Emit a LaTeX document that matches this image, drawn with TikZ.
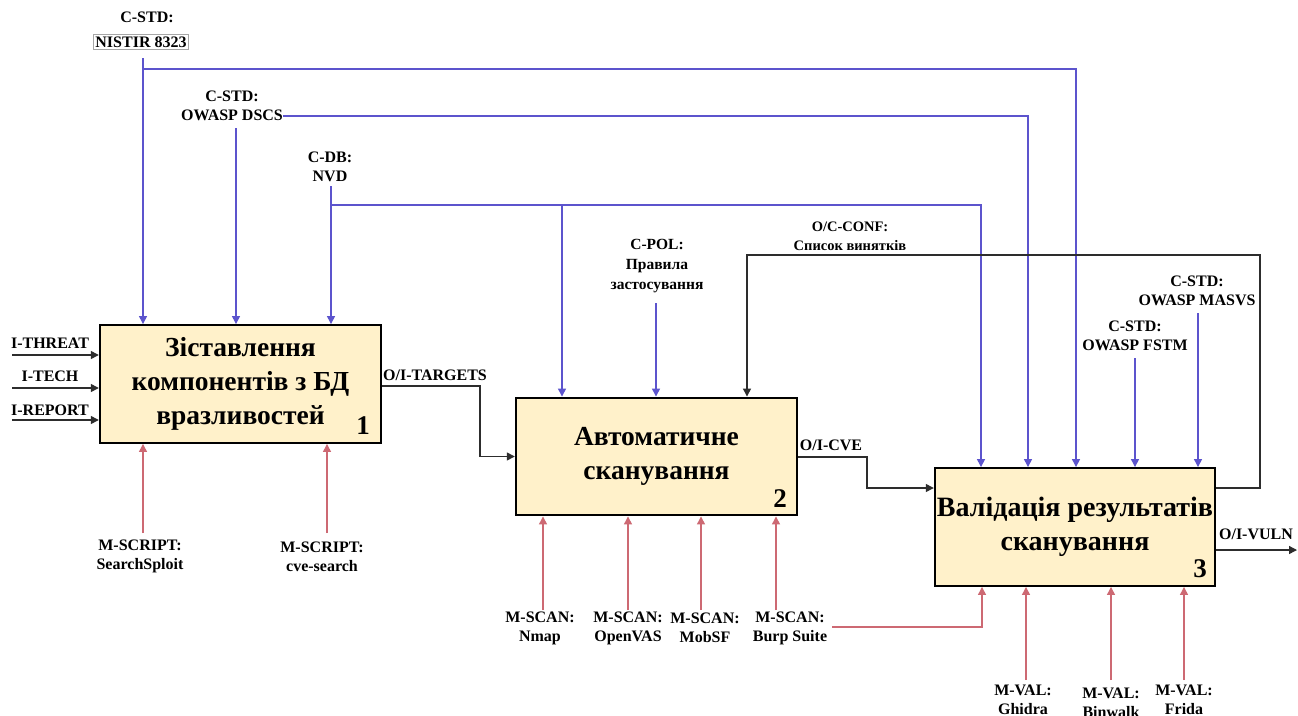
\documentclass[tikz,border=0pt]{standalone}
\usepackage{fontspec}
\setmainfont{Liberation Serif}
\usetikzlibrary{arrows.meta,calc}
\definecolor{boxfill}{RGB}{255,241,202}
\definecolor{ctlblue}{RGB}{92,84,205}
\definecolor{mechred}{RGB}{205,105,115}
\definecolor{flowgray}{RGB}{45,45,45}
\begin{document}
\begin{tikzpicture}[x=1pt,y=-1pt,
  proc/.style={draw=black, line width=2.4pt, fill=boxfill, minimum width=281pt, minimum height=117.5pt, inner sep=0pt, align=center, font=\bfseries\fontsize{27.5}{34}\selectfont},
  lbl/.style={align=center, font=\bfseries\fontsize{16}{19}\selectfont, inner sep=1pt},
  num/.style={font=\bfseries\fontsize{27}{27}\selectfont, inner sep=0pt},
  tip/.style={-{Triangle[length=8pt,width=8pt]}},
  ctl/.style={draw=ctlblue, line width=1.3pt, tip},
  mech/.style={draw=mechred, line width=1.3pt, tip},
  flow/.style={draw=flowgray, line width=1.3pt, tip},
]
\useasboundingbox (0,0) rectangle (1298,715);
\fill[white] (0,0) rectangle (1298,715);

% process boxes
\node[proc] (b1) at (240.5,384) {Зіставлення\\компонентів з БД\\вразливостей};
\node[proc] (b2) at (656.5,456.5) {Автоматичне\\сканування};
\node[proc, minimum width=280pt, font=\bfseries\fontsize{28}{34}\selectfont] (b3) at (1075,527) {Валідація результатів\\сканування};
\node[num] (n1) at ($(b1.south east)+(-19,-18)$) {1};
\node[num] (n2) at ($(b2.south east)+(-18,-18)$) {2};
\node[num] (n3) at ($(b3.south east)+(-16,-18)$) {3};

% control labels
\node[lbl] (nistirA) at (147,17) {C-STD:};
\node[lbl, draw=gray!70, line width=0.7pt, inner sep=2pt] (nistir) at (141,42) {NISTIR 8323};
\node[lbl] (dscs) at (232,106) {C-STD:\\OWASP DSCS};
\node[lbl] (nvd) at (330,167) {C-DB:\\NVD};
\node[lbl, font=\bfseries\fontsize{15.5}{20}\selectfont] (cpol) at (657,266) {C-POL:\\Правила\\застосування};
\node[lbl, font=\bfseries\fontsize{14.5}{19}\selectfont] (conf) at (850,236) {O/C-CONF:\\Список винятків};
\node[lbl] (fstm) at (1135,336) {C-STD:\\OWASP FSTM};
\node[lbl] (masvs) at (1197,291) {C-STD:\\OWASP MASVS};

% input / output labels
\node[lbl] (ithreat) at (50,343) {I-THREAT};
\node[lbl] (itech) at (50,376) {I-TECH};
\node[lbl] (ireport) at (50,410) {I-REPORT};
\node[lbl] (targets) at (435,375) {O/I-TARGETS};
\node[lbl] (cve) at (831,445) {O/I-CVE};
\node[lbl] (vuln) at (1256,534) {O/I-VULN};

% mechanism labels
\node[lbl] (ms1) at (140,556) {M-SCRIPT:\\SearchSploit};
\node[lbl] (ms2) at (322,557) {M-SCRIPT:\\cve-search};
\node[lbl] (sc1) at (540,628) {M-SCAN:\\Nmap};
\node[lbl] (sc2) at (628,628) {M-SCAN:\\OpenVAS};
\node[lbl] (sc3) at (705,628) {M-SCAN:\\MobSF};
\node[lbl] (sc4) at (790,628) {M-SCAN:\\Burp Suite};
\node[lbl] (mv1) at (1023,700) {M-VAL:\\Ghidra};
\node[lbl] (mv2) at (1111,703) {M-VAL:\\Binwalk};
\node[lbl] (mv3) at (1184,700) {M-VAL:\\Frida};

% helper coordinates
\coordinate (nisT) at (143,58);
\coordinate (dscsT) at (236,128);
\coordinate (dscsE) at (283,116);
\coordinate (nvdT) at (331,186);
\coordinate (nvdH) at (331,205);
\coordinate (nvdB) at (562,205);
\coordinate (h69) at (0,69);
\coordinate (x981) at (981,0);
\coordinate (x1028) at (1028,0);
\coordinate (x1076) at (1076,0);
\coordinate (cpolT) at (656,303);
\coordinate (fstmT) at (1135,358);
\coordinate (masvsT) at (1198,313);
\coordinate (confR) at (1260,255);
\coordinate (confL) at (747,255);
\coordinate (tgtV) at (480,386);
\coordinate (cveV) at (867,457);
\coordinate (y488) at (0,488);
\coordinate (y550) at (0,550);
\coordinate (vulnE) at (1297,550);
\coordinate (burpE) at (832,627);
\coordinate (burpX) at (982,0);

% controls
\draw[ctl] (nisT) -- (nisT |- b1.north);
\draw[ctl] (nisT |- h69) -| (x1076 |- b3.north);
\draw[ctl] (dscsT) -- (dscsT |- b1.north);
\draw[ctl] (dscsE) -| (x1028 |- b3.north);
\draw[ctl] (nvdT) -- (nvdT |- b1.north);
\draw[ctl] (nvdH) -| (x981 |- b3.north);
\draw[ctl] (nvdB) -- (nvdB |- b2.north);
\draw[ctl] (cpolT) -- (cpolT |- b2.north);
\draw[ctl] (fstmT) -- (fstmT |- b3.north);
\draw[ctl] (masvsT) -- (masvsT |- b3.north);

% feedback O/C-CONF
\draw[flow] (b3.east |- y488) -| (confR) -| (confL |- b2.north);

% inputs
\draw[flow] (12,355) -- (b1.west |- 0,355);
\draw[flow] (12,388) -- (b1.west |- 0,388);
\draw[flow] (12,420) -- (b1.west |- 0,420);

% outputs
\draw[flow] (b1.east |- tgtV) -- (tgtV) |- (b2.west);
\draw[flow] (b2.east |- cveV) -- (cveV) |- (b3.west |- y488);
\draw[flow] (b3.east |- y550) -- (vulnE);

% mechanisms
\draw[mech] (143,533) -- (143,0 |- b1.south);
\draw[mech] (327,533) -- (327,0 |- b1.south);
\draw[mech] (543,610) -- (543,0 |- b2.south);
\draw[mech] (628,610) -- (628,0 |- b2.south);
\draw[mech] (701,610) -- (701,0 |- b2.south);
\draw[mech] (776,610) -- (776,0 |- b2.south);
\draw[mech] (burpE) -| (burpX |- b3.south);
\draw[mech] (1026,680) -- (1026,0 |- b3.south);
\draw[mech] (1111,680) -- (1111,0 |- b3.south);
\draw[mech] (1184,680) -- (1184,0 |- b3.south);
\end{tikzpicture}
\end{document}
